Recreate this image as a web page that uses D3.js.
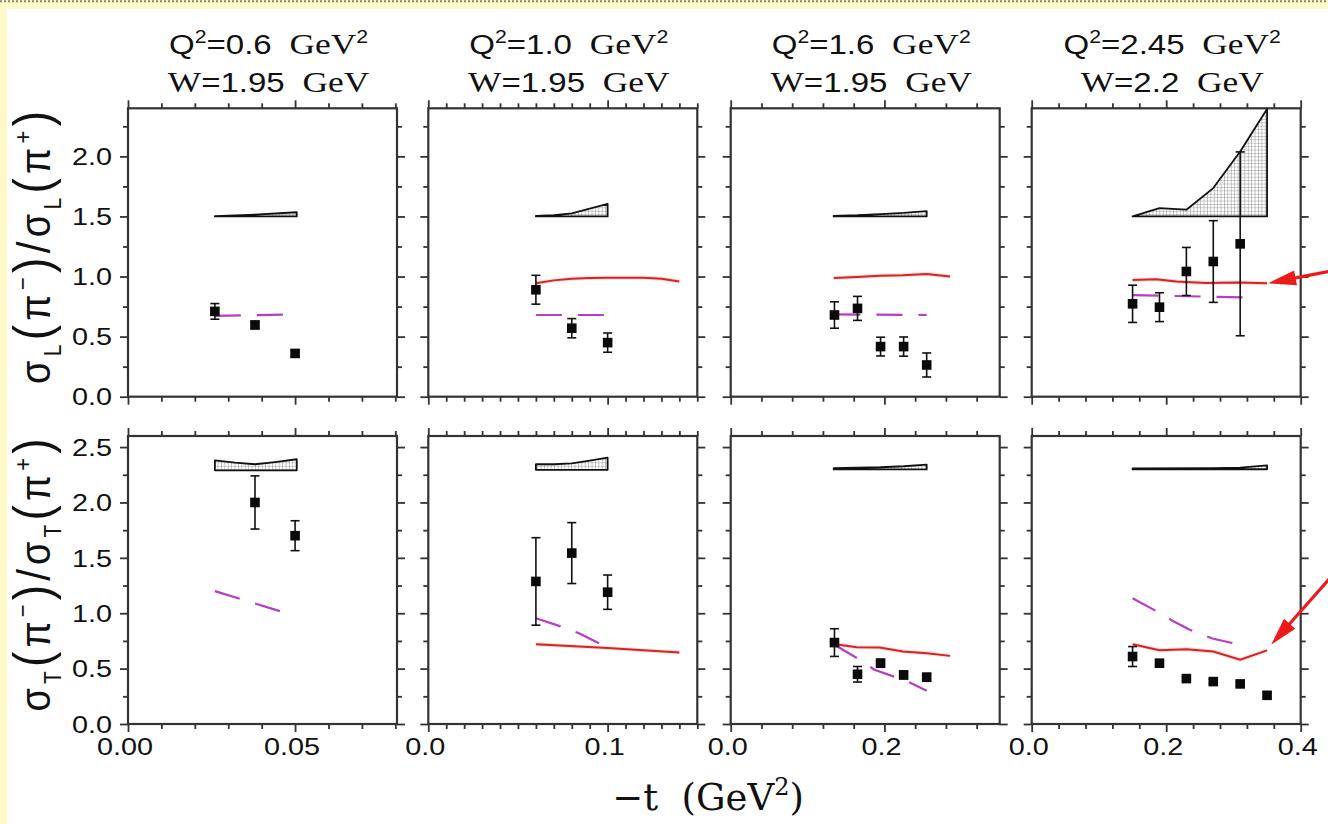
<!DOCTYPE html>
<html><head><meta charset="utf-8">
<script src="https://cdn.jsdelivr.net/npm/d3@7"></script>
<style>body{margin:0;background:#fff8c8;} svg{display:block}</style>
</head><body>
<svg id="chart" width="1328" height="824"></svg>
<script>
// ---------- axis / label data ----------
const q2Labels = ["0.6", "1.0", "1.6", "2.45"];
const wLabels = ["1.95", "1.95", "1.95", "2.2"];
const tMax = [0.0805, 0.15, 0.35, 0.4];
const xMajorTicks = [[0, 0.05], [0, 0.1], [0, 0.2], [0, 0.2, 0.4]];
const xTickLabels = [["0.00", "0.05"], ["0.0", "0.1"], ["0.0", "0.2"], ["0.0", "0.2", "0.4"]];
const xMinorStep = [0.01, 0.01, 0.04, 0.04];
const yMaxL = 2.4, yMaxT = 2.6;
const yTickLabelsL = ["0.0", "0.5", "1.0", "1.5", "2.0"];
const yTickLabelsT = ["0.0", "0.5", "1.0", "1.5", "2.0", "2.5"];

// ---------- sigma_L ratio data (top row) ----------
const L_t   = [[0.026, 0.038, 0.050], [0.060, 0.080, 0.100], [0.135, 0.165, 0.195, 0.225, 0.255], [0.150, 0.190, 0.230, 0.270, 0.310]];
const L_val = [[0.71, 0.597, 0.36], [0.89, 0.57, 0.45], [0.68, 0.735, 0.417, 0.417, 0.264], [0.773, 0.745, 1.042, 1.125, 1.272]];
const L_err = [[0.065, 0.03, 0.03], [0.12, 0.08, 0.08], [0.11, 0.10, 0.078, 0.08, 0.10], [0.155, 0.12, 0.20, 0.34, 0.765]];

// ---------- sigma_T ratio data (bottom row) ----------
const T_t   = [[0.038, 0.050], [0.060, 0.080, 0.100], [0.135, 0.165, 0.195, 0.225, 0.255], [0.150, 0.190, 0.230, 0.270, 0.310, 0.350]];
const T_val = [[2.0, 1.70], [1.287, 1.543, 1.19], [0.735, 0.449, 0.549, 0.443, 0.422], [0.609, 0.549, 0.41, 0.383, 0.362, 0.259]];
const T_err = [[0.24, 0.135], [0.395, 0.275, 0.155], [0.125, 0.07, 0.035, 0.035, 0.035], [0.09, 0.03, 0.02, 0.02, 0.02, 0.02]];

// ---------- model curves: solid red ----------
const redL_t = [[], [0.06, 0.07, 0.08, 0.09, 0.10, 0.11, 0.12, 0.13, 0.14], [0.134, 0.164, 0.194, 0.224, 0.255, 0.2855], [0.15, 0.185, 0.215, 0.259, 0.308, 0.35]];
const redL_v = [[], [0.945, 0.968, 0.982, 0.988, 0.99, 0.99, 0.99, 0.982, 0.958], [0.987, 0.996, 1.006, 1.011, 1.022, 1.0], [0.972, 0.978, 0.958, 0.947, 0.95, 0.944]];
const redT_t = [[], [0.06, 0.10, 0.14], [0.134, 0.164, 0.194, 0.224, 0.255, 0.2855], [0.15, 0.19, 0.23, 0.27, 0.31, 0.35]];
const redT_v = [[], [0.72, 0.685, 0.645], [0.723, 0.693, 0.69, 0.654, 0.639, 0.615], [0.72, 0.665, 0.675, 0.655, 0.58, 0.665]];

// ---------- model curves: dashed magenta ----------
const magL_t = [[0.026, 0.0486], [0.06, 0.10], [0.135, 0.255], [0.15, 0.331]];
const magL_v = [[0.672, 0.685], [0.68, 0.68], [0.685, 0.68], [0.845, 0.825]];
const magT_t = [[0.026, 0.0475], [0.06, 0.075, 0.084, 0.10], [0.135, 0.168, 0.187, 0.23, 0.255], [0.15, 0.185, 0.21, 0.235, 0.27, 0.31]];
const magT_v = [[1.2, 1.0], [0.955, 0.875, 0.82, 0.69], [0.715, 0.58, 0.49, 0.385, 0.30], [1.135, 1.02, 0.93, 0.85, 0.77, 0.715]];

// ---------- systematic error bands ----------
const bandL_t   = [[0.026, 0.038, 0.0505], [0.06, 0.07, 0.08, 0.09, 0.10], [0.134, 0.165, 0.195, 0.225, 0.255], [0.15, 0.19, 0.23, 0.27, 0.31, 0.35]];
const bandL_top = [[1.503, 1.515, 1.535], [1.505, 1.51, 1.525, 1.565, 1.605], [1.505, 1.51, 1.52, 1.53, 1.545], [1.5, 1.57, 1.556, 1.736, 2.04, 2.395]];
const bandL_base = [1.5, 1.5, 1.5, 1.5];
const bandT_t   = [[0.026, 0.032, 0.038, 0.044, 0.0505], [0.06, 0.07, 0.08, 0.09, 0.10], [0.134, 0.195, 0.225, 0.255], [0.15, 0.27, 0.31, 0.35]];
const bandT_top = [[2.38, 2.36, 2.345, 2.365, 2.39], [2.345, 2.345, 2.352, 2.377, 2.405], [2.31, 2.318, 2.327, 2.342], [2.307, 2.309, 2.315, 2.335]];
const bandT_base = [2.29, 2.295, 2.298, 2.3];

// ---------- layout ----------
const svg = d3.select("#chart");
const W = 1328, H = 824;
const panelLeft = [128, 428.3, 730.7, 1031.7], panelW = 269;
const rows = [
  {top: 108.3, h: 288.4, ymax: yMaxL, labels: yTickLabelsL, t: L_t, v: L_val, e: L_err, rt: redL_t, rv: redL_v, mt: magL_t, mv: magL_v, bt: bandL_t, btop: bandL_top, bbase: bandL_base, sub: "L"},
  {top: 436, h: 288, ymax: yMaxT, labels: yTickLabelsT, t: T_t, v: T_val, e: T_err, rt: redT_t, rv: redT_v, mt: magT_t, mv: magT_v, bt: bandT_t, btop: bandT_top, bbase: bandT_base, sub: "T"}
];
const frameCol = "#333";
const redCol = "#d42424", magCol = "#b83cc4";
const SANS = "'Liberation Sans', Arial, sans-serif";
const SERIF = "'Liberation Serif', 'Times New Roman', serif";
const TXT = "#111";

// background
svg.append("rect").attr("width", W).attr("height", H).attr("fill", "#fff8c8");
svg.append("line").attr("x1", 0).attr("x2", W).attr("y1", 1.2).attr("y2", 1.2)
  .attr("stroke", "#8a8670").attr("stroke-width", 2).attr("stroke-dasharray", "2,2");
svg.append("rect").attr("x", 7).attr("y", 9).attr("width", W - 7).attr("height", H - 9).attr("fill", "#fff");

// pattern
const defs = svg.append("defs");
const pat = defs.append("pattern").attr("id", "grid").attr("patternUnits", "userSpaceOnUse")
  .attr("width", 3.4).attr("height", 3.4);
pat.append("rect").attr("width", 3.4).attr("height", 3.4).attr("fill", "#fff");
pat.append("path").attr("d", "M0,0H3.4M0,0V3.4").attr("stroke", "#8c8c8c").attr("stroke-width", 1);

function stretchText(parent, x, y, anchor, sx) {
  return parent.append("text")
    .attr("transform", `translate(${x},${y}) scale(${sx},1)`)
    .attr("text-anchor", anchor);
}

let panel4 = {};

rows.forEach((row, r) => {
  const y = d3.scaleLinear([0, row.ymax], [row.top + row.h, row.top]);
  const yMajor = row.labels.map(Number);
  const yMinor = d3.range(0, row.ymax + 1e-9, 0.25).filter(v => !yMajor.some(m => Math.abs(m - v) < 1e-9));

  panelLeft.forEach((left, c) => {
    const x = d3.scaleLinear([0, tMax[c]], [left, left + panelW]);
    const xMajor = xMajorTicks[c];
    const xMinor = d3.range(0, tMax[c] + 1e-9, xMinorStep[c]).filter(v => !xMajor.some(m => Math.abs(m - v) < 1e-9));
    const g = svg.append("g");

    // axes ticks (outward)
    const axes = [
      [d3.axisLeft(y), `translate(${left},0)`, yMajor, yMinor],
      [d3.axisRight(y), `translate(${left + panelW},0)`, yMajor, yMinor],
      [d3.axisTop(x), `translate(0,${row.top})`, xMajor, xMinor],
      [d3.axisBottom(x), `translate(0,${row.top + row.h})`, xMajor, xMinor]
    ];
    axes.forEach(([ax, tr, maj, min]) => {
      const a1 = g.append("g").attr("transform", tr).call(ax.tickValues(maj).tickSize(8).tickSizeOuter(0).tickFormat(""));
      const a2 = g.append("g").attr("transform", tr).call(ax.tickValues(min).tickSize(5).tickSizeOuter(0).tickFormat(""));
      [a1, a2].forEach(a => {
        a.select(".domain").remove();
        a.selectAll("line").attr("stroke", frameCol).attr("stroke-width", 1.8);
      });
    });

    // frame
    g.append("rect").attr("x", left).attr("y", row.top).attr("width", panelW).attr("height", row.h)
      .attr("fill", "none").attr("stroke", frameCol).attr("stroke-width", 2.2);

    // y tick labels (leftmost column)
    if (c === 0) {
      row.labels.forEach(lab => {
        stretchText(g, left - 16, y(+lab) + 8.7, "end", 1.2)
          .attr("font-family", SANS).attr("font-size", 24).attr("fill", TXT).text(lab);
      });
    }
    // x tick labels (bottom row)
    if (r === 1) {
      xTickLabels[c].forEach((lab, i) => {
        stretchText(g, x(xMajor[i]) - 3, 755, "middle", 1.2)
          .attr("font-family", SANS).attr("font-size", 24).attr("fill", TXT).text(lab);
      });
    }

    // band
    const bandData = row.bt[c].map((t, i) => ({t, top: row.btop[c][i]}));
    g.append("path").datum(bandData)
      .attr("d", d3.area().x(d => x(d.t)).y0(y(row.bbase[c])).y1(d => y(d.top)))
      .attr("fill", "url(#grid)").attr("stroke", "#111").attr("stroke-width", 1.8).attr("stroke-linejoin", "round");

    // red model
    if (row.rt[c].length) {
      const rd = row.rt[c].map((t, i) => [x(t), y(row.rv[c][i])]);
      g.append("path").attr("d", d3.line()(rd)).attr("fill", "none")
        .attr("stroke", "#f3b0b0").attr("stroke-width", 4).attr("opacity", 0.45);
      g.append("path").attr("d", d3.line()(rd)).attr("fill", "none")
        .attr("stroke", redCol).attr("stroke-width", 2);
    }
    // magenta dashed model
    const md = row.mt[c].map((t, i) => [x(t), y(row.mv[c][i])]);
    g.append("path").attr("d", d3.line()(md)).attr("fill", "none")
      .attr("stroke", magCol).attr("stroke-width", 2.2).attr("stroke-dasharray", "26,16");

    // data points
    row.t[c].forEach((t, i) => {
      const v = row.v[c][i], e = row.e[c][i];
      const cx = x(t), y1 = y(v + e), y2 = y(v - e);
      g.append("line").attr("x1", cx).attr("x2", cx).attr("y1", y1).attr("y2", y2).attr("stroke", "#111").attr("stroke-width", 1.6);
      [y1, y2].forEach(yy => g.append("line").attr("x1", cx - 4.5).attr("x2", cx + 4.5).attr("y1", yy).attr("y2", yy)
        .attr("stroke", "#111").attr("stroke-width", 1.6));
      g.append("rect").attr("x", cx - 4.8).attr("y", y(v) - 4.8).attr("width", 9.6).attr("height", 9.6).attr("fill", "#0a0a0a");
    });

    if (c === 3) panel4[r] = {x, y};

    // titles
    if (r === 0) {
      const cx = left + panelW / 2 + 6;
      const t1 = stretchText(svg, cx, 53.5, "middle", 1.18).attr("font-size", 28).attr("fill", TXT);
      t1.append("tspan").attr("font-family", SANS).text("Q");
      t1.append("tspan").attr("font-family", SANS).attr("font-size", 18).attr("dy", -11).text("2");
      t1.append("tspan").attr("font-family", SANS).attr("dy", 11).text("=" + q2Labels[c]);
      t1.append("tspan").attr("font-family", SERIF).attr("font-size", 30).text("\u00a0\u00a0GeV");
      t1.append("tspan").attr("font-family", SANS).attr("font-size", 18).attr("dy", -11).text("2");
      const t2 = stretchText(svg, cx, 91.7, "middle", 1.18).attr("font-size", 28).attr("fill", TXT);
      t2.append("tspan").attr("font-family", SERIF).attr("font-size", 30).text("W");
      t2.append("tspan").attr("font-family", SANS).text("=" + wLabels[c]);
      t2.append("tspan").attr("font-family", SERIF).attr("font-size", 30).text("\u00a0\u00a0GeV");
    }
  });

  // y-axis title
  const cy = row.top + row.h / 2 - 5;
  const yl = svg.append("text")
    .attr("transform", `translate(50,${cy}) rotate(-90) scale(1,1.12)`)
    .attr("text-anchor", "middle").attr("font-family", SANS).attr("font-size", 38).attr("fill", TXT)
    .attr("textLength", 273).attr("lengthAdjust", "spacing");
  const part = (txt, opts = {}) => {
    const s = yl.append("tspan").text(txt);
    if (opts.fs) s.attr("font-size", opts.fs);
    if (opts.dy) s.attr("dy", opts.dy);
    return s;
  };
  part("σ"); part(row.sub, {fs: 21, dy: 10}); part("(", {fs: 46, dy: -10}); part("π");
  part("−", {fs: 22, dy: -17}); part(")", {fs: 46, dy: 17}); part("/", {fs: 42});
  part("σ"); part(row.sub, {fs: 21, dy: 10}); part("(", {fs: 46, dy: -10}); part("π");
  part("+", {fs: 22, dy: -17}); part(")", {fs: 46, dy: 17});
});

// x-axis title
const xl = svg.append("text").attr("x", 708).attr("y", 810).attr("text-anchor", "middle")
  .attr("font-family", "'DejaVu Serif', serif").attr("font-size", 37).attr("fill", TXT);
xl.append("tspan").text("−t\u00a0\u00a0(GeV");
xl.append("tspan").attr("font-size", 24).attr("dy", -15).text("2");
xl.append("tspan").attr("dy", 15).text(")");

// red annotation arrows pointing at model-curve ends
function arrow(tip, tail) {
  const dx = tail[0] - tip[0], dy = tail[1] - tip[1], len = Math.hypot(dx, dy);
  const ux = dx / len, uy = dy / len, nx = -uy, ny = ux;
  const hl = 28, hw = 7.5;
  svg.append("line").attr("x1", tail[0]).attr("y1", tail[1])
    .attr("x2", tip[0] + ux * (hl - 4)).attr("y2", tip[1] + uy * (hl - 4))
    .attr("stroke", "#ee1a1a").attr("stroke-width", 3.2);
  svg.append("polygon").attr("points", [
    [tip[0], tip[1]],
    [tip[0] + ux * hl + nx * hw, tip[1] + uy * hl + ny * hw],
    [tip[0] + ux * hl - nx * hw, tip[1] + uy * hl - ny * hw]
  ].map(p => p.join(",")).join(" ")).attr("fill", "#ee1a1a");
}
{
  const p = panel4[0];
  const tip = [p.x(0.35) + 1, p.y(0.944)];
  arrow(tip, [1332, tip[1] - 12.5]);
  const q = panel4[1];
  const tip2 = [q.x(0.356), q.y(0.715)];
  arrow(tip2, [1332, tip2[1] - 69]);
}
</script>
</body></html>
